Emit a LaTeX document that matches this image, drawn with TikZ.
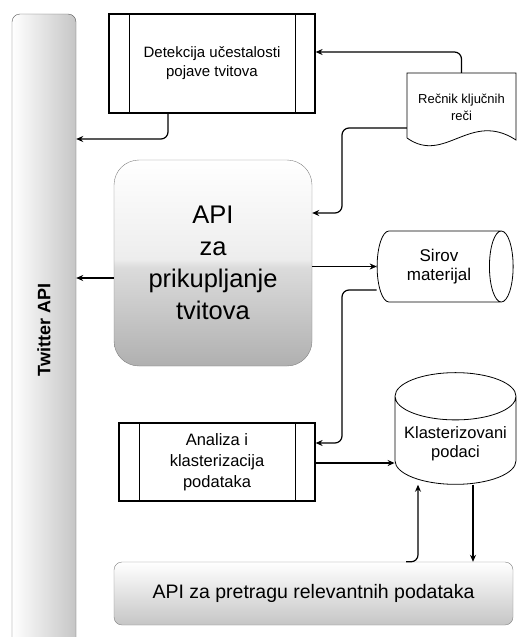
\documentclass[tikz,border=0pt]{standalone}
\usepackage{fontspec}
\setmainfont{Liberation Sans}
\usetikzlibrary{shapes.geometric, arrows.meta, positioning}
\pgfdeclareverticalshading{gloss}{100bp}{color(0bp)=(gray!62); color(25bp)=(gray!62); color(49bp)=(gray!28); color(51bp)=(gray!14); color(75bp)=(white); color(100bp)=(white)}
\tikzstyle{proc}=[draw,line width=1.2pt,inner sep=0pt,align=center,path picture={\draw[line width=.8pt] ([xshift=20pt]path picture bounding box.north west) -- ([xshift=20pt]path picture bounding box.south west) ([xshift=-20pt]path picture bounding box.north east) -- ([xshift=-20pt]path picture bounding box.south east);}]
\tikzstyle{store}=[cylinder,draw,line width=.8pt,inner sep=0pt,align=center]
\tikzstyle{glossy}=[draw=gray,shade,shading=gloss,align=center,inner sep=0pt]
\tikzstyle{con}=[very thick,-{Stealth[length=7pt,width=6pt]},rounded corners=7pt]

\begin{document}
\begin{tikzpicture}[x=1pt,y=-1pt]
                    \useasboundingbox (0,0) rectangle (517,637);
                    \node[draw=gray!70!black,left color=white,right color=gray!45,rounded corners=8pt,minimum width=64pt,minimum height=632pt,inner sep=0pt] (twitter) at (44,330) {\rotatebox{90}{\fontsize{18}{18}\selectfont\bfseries Twitter API}};
                    \node[proc,minimum width=206pt,minimum height=99pt,font=\fontsize{15}{19}\selectfont] (det) at (212,63.5) {Detekcija učestalosti\\pojave tvitova};
                    \node[align=center,minimum width=109pt,minimum height=68pt,inner sep=0pt,font=\fontsize{13}{17}\selectfont] (recnik) at (461.5,107) {Rečnik ključnih\\reči};
                    \draw[line width=.8pt] (407,138) -- (407,73) -- (516,73) -- (516,140) .. controls (470,110) and (445,165) .. (407,138);
                    \node[glossy,rounded corners=25pt,minimum width=198pt,minimum height=206pt,font=\fontsize{25.5}{32}\selectfont] (api) at (213,263) {API\\za\\prikupljanje\\tvitova};
                    \node[store,shape aspect=.68,minimum width=71pt,minimum height=136pt,font=\fontsize{17}{19}\selectfont] (sirov) at (439,266.5) {Sirov\\materijal};
                    \node[store,shape border rotate=90,shape aspect=.46,minimum width=121pt,minimum height=110pt,font=\fontsize{16.5}{19}\selectfont] (klaster) at (455.5,440.5) {\rule{0pt}{18pt}Klasterizovani\\podaci};
                    \node[proc,minimum width=196pt,minimum height=78pt,font=\fontsize{16.5}{21}\selectfont] (ana) at (217,462) {Analiza i\\klasterizacija\\podataka};
                    \node[draw=gray,rounded corners=8pt,top color=white,bottom color=gray!45,minimum width=399pt,minimum height=63pt,font=\fontsize{19.5}{24}\selectfont] (pretraga) at (313.5,593.5) {API za pretragu relevantnih podataka};
                    \draw[con] (recnik.north) |- (det.east |- 0,52);
                    \draw[con] (recnik.west |- 0,128) -| (342,170) |- (api.east |- 0,213);
                    \draw[con] (det.south -| 168,0) |- (twitter.east |- 0,139);
                    \draw[con] (api.west |- 0,278) -- (twitter.east |- 0,278);
                    \draw[con,thin] (api.east |- sirov.west) -- (sirov.west);
                    \draw[con] (sirov.west |- 0,290) -| (342,360) |- (ana.east |- 0,443);
                    \draw[con] (ana.east |- 0,463) -- (klaster.west |- 0,463);
                    \draw[con] (pretraga.north -| 406,0) -| (klaster.south -| 418,0);
                    \draw[con] (klaster.south -| 473,0) -- (pretraga.north -| 473,0);
                \end{tikzpicture}
\end{document}
